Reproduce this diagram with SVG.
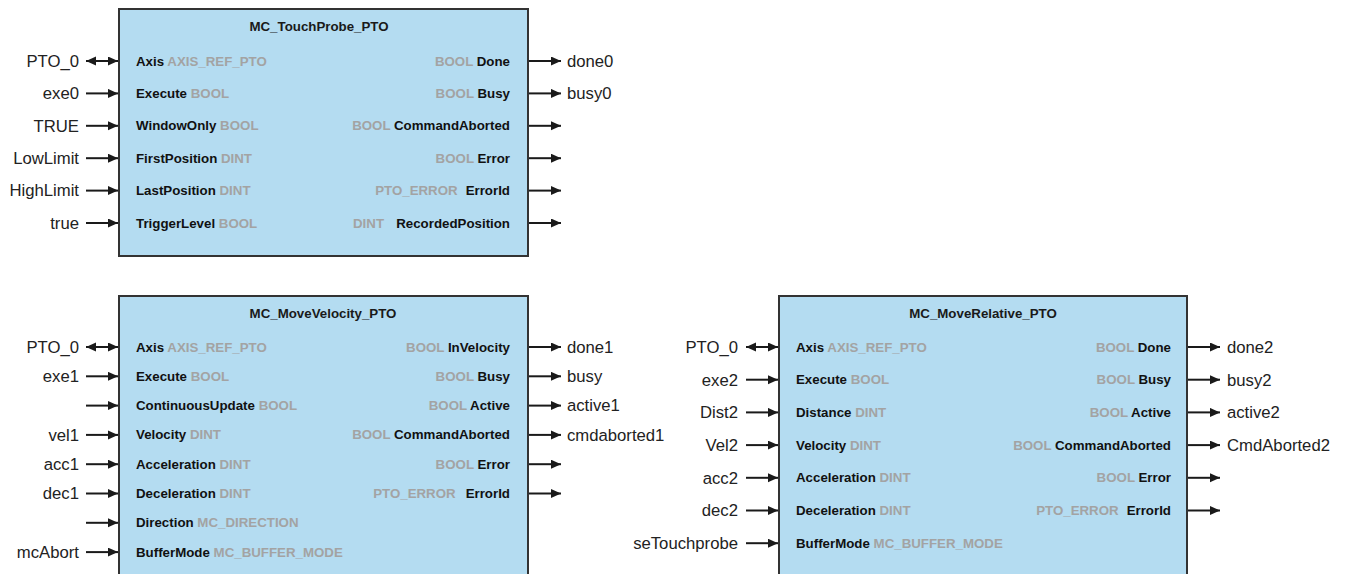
<svg xmlns="http://www.w3.org/2000/svg" width="1346" height="574" viewBox="0 0 1346 574">
<defs>
<marker id="ah" markerUnits="userSpaceOnUse" markerWidth="12" markerHeight="12" refX="10" refY="4.5" orient="auto-start-reverse">
<path d="M0,0 L10,4.5 L0,9 z" fill="#1a1a1a"/>
</marker>
<style>
.box{fill:#b4dcf1;stroke:#333;stroke-width:2}
.title{font-family:"Liberation Sans",Arial,sans-serif;font-weight:bold;font-size:13.3px;fill:#1a1a1a;text-anchor:middle}
.pin{font-family:"Liberation Sans",Arial,sans-serif;font-weight:bold;font-size:13.3px;fill:#111}
.ty{fill:#a3a3a3}
.tyb{font-family:"Liberation Sans",Arial,sans-serif;font-weight:bold;font-size:13.3px;fill:#a3a3a3}
.out{text-anchor:end}
.lbl{font-family:"Liberation Sans",Arial,sans-serif;font-size:16.7px;fill:#222}
.lin{text-anchor:end}
.c{stroke:#1a1a1a;stroke-width:2;fill:none;marker-end:url(#ah)}
.cb{stroke:#1a1a1a;stroke-width:2;fill:none;marker-end:url(#ah);marker-start:url(#ah)}
</style>
</defs>

<g id="touchprobe">
<rect class="box" x="119" y="9" width="409" height="247"/>
<text class="title" x="319" y="30.5">MC_TouchProbe_PTO</text>
<text class="pin" x="136" y="65.5">Axis <tspan class="ty">AXIS_REF_PTO</tspan></text>
<text class="pin" x="136" y="97.9">Execute <tspan class="ty">BOOL</tspan></text>
<text class="pin" x="136" y="130.3">WindowOnly <tspan class="ty">BOOL</tspan></text>
<text class="pin" x="136" y="162.7">FirstPosition <tspan class="ty">DINT</tspan></text>
<text class="pin" x="136" y="195.1">LastPosition <tspan class="ty">DINT</tspan></text>
<text class="pin" x="136" y="227.5">TriggerLevel <tspan class="ty">BOOL</tspan></text>
<text class="pin out" x="510" y="65.5"><tspan class="ty">BOOL</tspan> Done</text>
<text class="pin out" x="510" y="97.9"><tspan class="ty">BOOL</tspan> Busy</text>
<text class="pin out" x="510" y="130.3"><tspan class="ty">BOOL</tspan> CommandAborted</text>
<text class="pin out" x="510" y="162.7"><tspan class="ty">BOOL</tspan> Error</text>
<text class="pin out" x="510" y="195.1"><tspan class="ty">PTO_ERROR</tspan><tspan dx="8">ErrorId</tspan></text>
<text class="tyb" x="353" y="227.5">DINT</text>
<text class="pin out" x="510" y="227.5">RecordedPosition</text>
</g>

<g id="movevelocity">
<rect class="box" x="119" y="296" width="409" height="300"/>
<text class="title" x="323" y="317.5">MC_MoveVelocity_PTO</text>
<text class="pin" x="136" y="351.5">Axis <tspan class="ty">AXIS_REF_PTO</tspan></text>
<text class="pin" x="136" y="380.8">Execute <tspan class="ty">BOOL</tspan></text>
<text class="pin" x="136" y="410.1">ContinuousUpdate <tspan class="ty">BOOL</tspan></text>
<text class="pin" x="136" y="439.4">Velocity <tspan class="ty">DINT</tspan></text>
<text class="pin" x="136" y="468.7">Acceleration <tspan class="ty">DINT</tspan></text>
<text class="pin" x="136" y="498">Deceleration <tspan class="ty">DINT</tspan></text>
<text class="pin" x="136" y="527.3">Direction <tspan class="ty">MC_DIRECTION</tspan></text>
<text class="pin" x="136" y="556.6">BufferMode <tspan class="ty">MC_BUFFER_MODE</tspan></text>
<text class="pin out" x="510" y="351.5"><tspan class="ty">BOOL</tspan> InVelocity</text>
<text class="pin out" x="510" y="380.8"><tspan class="ty">BOOL</tspan> Busy</text>
<text class="pin out" x="510" y="410.1"><tspan class="ty">BOOL</tspan> Active</text>
<text class="pin out" x="510" y="439.4"><tspan class="ty">BOOL</tspan> CommandAborted</text>
<text class="pin out" x="510" y="468.7"><tspan class="ty">BOOL</tspan> Error</text>
<text class="pin out" x="510" y="498"><tspan class="ty">PTO_ERROR</tspan><tspan dx="10">ErrorId</tspan></text>
</g>

<g id="moverelative">
<rect class="box" x="779" y="296" width="408" height="300"/>
<text class="title" x="983" y="317.5">MC_MoveRelative_PTO</text>
<text class="pin" x="796" y="351.5">Axis <tspan class="ty">AXIS_REF_PTO</tspan></text>
<text class="pin" x="796" y="384.2">Execute <tspan class="ty">BOOL</tspan></text>
<text class="pin" x="796" y="416.9">Distance <tspan class="ty">DINT</tspan></text>
<text class="pin" x="796" y="449.6">Velocity <tspan class="ty">DINT</tspan></text>
<text class="pin" x="796" y="482.3">Acceleration <tspan class="ty">DINT</tspan></text>
<text class="pin" x="796" y="515">Deceleration <tspan class="ty">DINT</tspan></text>
<text class="pin" x="796" y="547.7">BufferMode <tspan class="ty">MC_BUFFER_MODE</tspan></text>
<text class="pin out" x="1171" y="351.5"><tspan class="ty">BOOL</tspan> Done</text>
<text class="pin out" x="1171" y="384.2"><tspan class="ty">BOOL</tspan> Busy</text>
<text class="pin out" x="1171" y="416.9"><tspan class="ty">BOOL</tspan> Active</text>
<text class="pin out" x="1171" y="449.6"><tspan class="ty">BOOL</tspan> CommandAborted</text>
<text class="pin out" x="1171" y="482.3"><tspan class="ty">BOOL</tspan> Error</text>
<text class="pin out" x="1171" y="515"><tspan class="ty">PTO_ERROR</tspan><tspan dx="8">ErrorId</tspan></text>
</g>

<g id="labels">
<text class="lbl lin" x="79" y="66.8">PTO_0</text>
<text class="lbl lin" x="79" y="99.2">exe0</text>
<text class="lbl lin" x="79" y="131.6">TRUE</text>
<text class="lbl lin" x="79" y="164">LowLimit</text>
<text class="lbl lin" x="79" y="196.4">HighLimit</text>
<text class="lbl lin" x="79" y="228.8">true</text>
<text class="lbl" x="567" y="66.8">done0</text>
<text class="lbl" x="567" y="99.2">busy0</text>

<text class="lbl lin" x="79" y="352.8">PTO_0</text>
<text class="lbl lin" x="79" y="382.1">exe1</text>
<text class="lbl lin" x="79" y="440.7">vel1</text>
<text class="lbl lin" x="79" y="470">acc1</text>
<text class="lbl lin" x="79" y="499.3">dec1</text>
<text class="lbl lin" x="79" y="557.9">mcAbort</text>
<text class="lbl" x="567" y="352.8">done1</text>
<text class="lbl" x="567" y="382.1">busy</text>
<text class="lbl" x="567" y="411.4">active1</text>
<text class="lbl" x="567" y="440.7">cmdaborted1</text>

<text class="lbl lin" x="738" y="352.8">PTO_0</text>
<text class="lbl lin" x="738" y="385.5">exe2</text>
<text class="lbl lin" x="738" y="418.2">Dist2</text>
<text class="lbl lin" x="738" y="450.9">Vel2</text>
<text class="lbl lin" x="738" y="483.6">acc2</text>
<text class="lbl lin" x="738" y="516.3">dec2</text>
<text class="lbl lin" x="738" y="549">seTouchprobe</text>
<text class="lbl" x="1227" y="352.8">done2</text>
<text class="lbl" x="1227" y="385.5">busy2</text>
<text class="lbl" x="1227" y="418.2">active2</text>
<text class="lbl" x="1227" y="450.9">CmdAborted2</text>
</g>

<g id="connectors">
<line class="cb" x1="86" y1="61" x2="118" y2="61"/>
<line class="c" x1="86" y1="93.4" x2="118" y2="93.4"/>
<line class="c" x1="86" y1="125.8" x2="118" y2="125.8"/>
<line class="c" x1="86" y1="158.2" x2="118" y2="158.2"/>
<line class="c" x1="86" y1="190.6" x2="118" y2="190.6"/>
<line class="c" x1="86" y1="223" x2="118" y2="223"/>
<line class="c" x1="529" y1="61" x2="561" y2="61"/>
<line class="c" x1="529" y1="93.4" x2="561" y2="93.4"/>
<line class="c" x1="529" y1="125.8" x2="561" y2="125.8"/>
<line class="c" x1="529" y1="158.2" x2="561" y2="158.2"/>
<line class="c" x1="529" y1="190.6" x2="561" y2="190.6"/>
<line class="c" x1="529" y1="223" x2="561" y2="223"/>

<line class="cb" x1="86" y1="347" x2="118" y2="347"/>
<line class="c" x1="86" y1="376.3" x2="118" y2="376.3"/>
<line class="c" x1="86" y1="405.6" x2="118" y2="405.6"/>
<line class="c" x1="86" y1="434.9" x2="118" y2="434.9"/>
<line class="c" x1="86" y1="464.2" x2="118" y2="464.2"/>
<line class="c" x1="86" y1="493.5" x2="118" y2="493.5"/>
<line class="c" x1="86" y1="522.8" x2="118" y2="522.8"/>
<line class="c" x1="86" y1="552.1" x2="118" y2="552.1"/>
<line class="c" x1="529" y1="347" x2="561" y2="347"/>
<line class="c" x1="529" y1="376.3" x2="561" y2="376.3"/>
<line class="c" x1="529" y1="405.6" x2="561" y2="405.6"/>
<line class="c" x1="529" y1="434.9" x2="561" y2="434.9"/>
<line class="c" x1="529" y1="464.2" x2="561" y2="464.2"/>
<line class="c" x1="529" y1="493.5" x2="561" y2="493.5"/>

<line class="cb" x1="746" y1="347" x2="778" y2="347"/>
<line class="c" x1="746" y1="379.7" x2="778" y2="379.7"/>
<line class="c" x1="746" y1="412.4" x2="778" y2="412.4"/>
<line class="c" x1="746" y1="445.1" x2="778" y2="445.1"/>
<line class="c" x1="746" y1="477.8" x2="778" y2="477.8"/>
<line class="c" x1="746" y1="510.5" x2="778" y2="510.5"/>
<line class="c" x1="746" y1="543.2" x2="778" y2="543.2"/>
<line class="c" x1="1188" y1="347" x2="1220" y2="347"/>
<line class="c" x1="1188" y1="379.7" x2="1220" y2="379.7"/>
<line class="c" x1="1188" y1="412.4" x2="1220" y2="412.4"/>
<line class="c" x1="1188" y1="445.1" x2="1220" y2="445.1"/>
<line class="c" x1="1188" y1="477.8" x2="1220" y2="477.8"/>
<line class="c" x1="1188" y1="510.5" x2="1220" y2="510.5"/>
</g>
</svg>
